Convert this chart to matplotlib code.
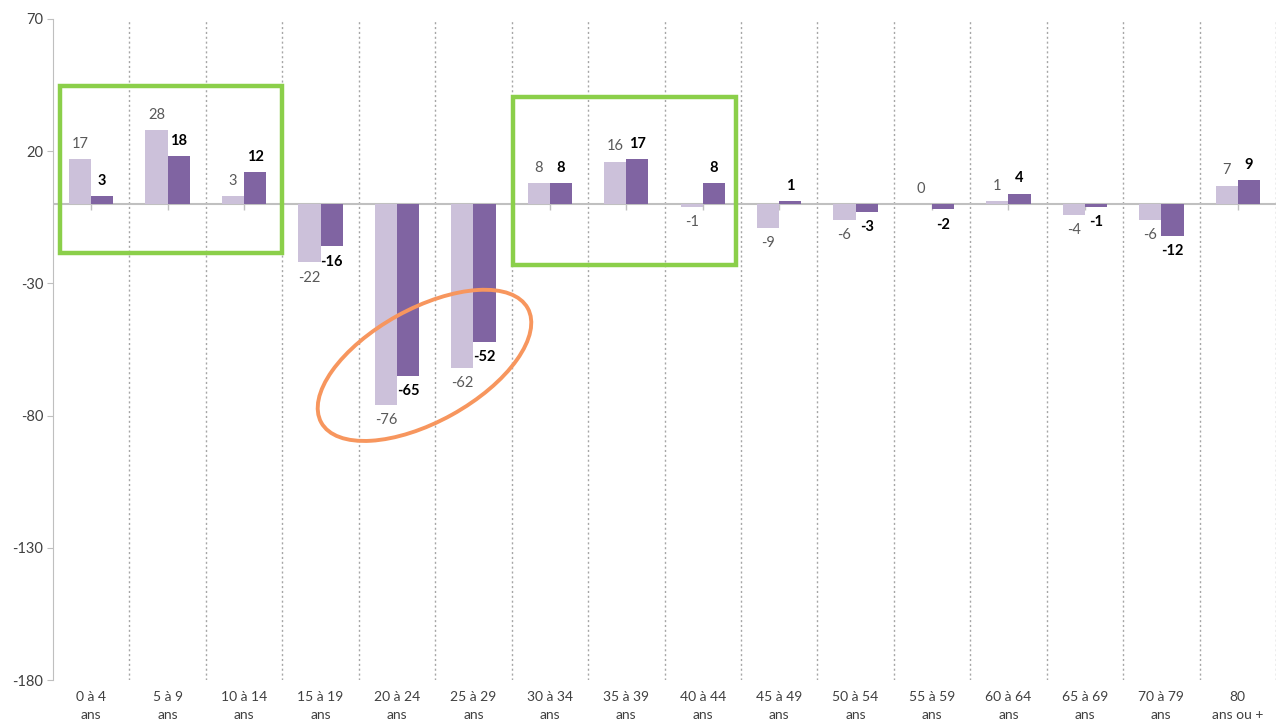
import numpy as np
import matplotlib
matplotlib.use('Agg')
from matplotlib import pyplot as plt
from matplotlib.patches import Rectangle, Ellipse
from matplotlib.transforms import IdentityTransform

ages = ['0 à 4\nans', '5 à 9\nans', '10 à 14\nans', '15 à 19\nans', '20 à 24\nans',
        '25 à 29\nans', '30 à 34\nans', '35 à 39\nans', '40 à 44\nans', '45 à 49\nans',
        '50 à 54\nans', '55 à 59\nans', '60 à 64\nans', '65 à 69\nans', '70 à 79\nans',
        '80\nans ou +']
serie_claire = [17, 28, 3, -22, -76, -62, 8, 16, -1, -9, -6, 0, 1, -4, -6, 7]
serie_foncee = [3, 18, 12, -16, -65, -52, 8, 17, 8, 1, -3, -2, 4, -1, -12, 9]
y_ticks = [70, 20, -30, -80, -130, -180]

plt.rcParams['font.family'] = ['Lato', 'DejaVu Sans']

col_clair = '#ccc1da'
col_fonce = '#8064a2'
gris = '#404040'


def main():
    fig = plt.figure(figsize=(12.76, 7.27), dpi=100)
    ax = fig.add_axes([53 / 1276, 1 - 680 / 727, (1276 - 53) / 1276, (680 - 19) / 727])
    x = np.arange(len(ages))
    w = 0.29

    ax.bar(x - w / 2, serie_claire, w, color=col_clair, zorder=3)
    ax.bar(x + w / 2, serie_foncee, w, color=col_fonce, zorder=3)

    # valeurs au-dessus / en dessous des barres
    for i in range(len(ages)):
        for val, dx, c, fw in [(serie_claire[i], -w / 2, '#595959', 'normal'),
                               (serie_foncee[i], w / 2, 'black', 'bold')]:
            off = 11 if val >= 0 else -11
            ax.annotate(str(val), (x[i] + dx, val), xytext=(0, off),
                        textcoords='offset points', ha='center', va='center',
                        fontsize=10.5, color=c, fontweight=fw, zorder=5)

    ax.set_xlim(-0.5, len(ages) - 0.5)
    ax.set_ylim(-180, 70)
    ax.set_yticks(y_ticks)
    ax.set_yticklabels([str(v) for v in y_ticks], fontsize=10.5, color=gris)
    ax.set_xticks(x)
    ax.set_xticklabels(ages, fontsize=10, color=gris, linespacing=1.6)
    ax.tick_params(axis='x', length=0, pad=8)
    ax.tick_params(axis='y', length=4, color='#bfbfbf', pad=3)

    for s in ['top', 'right', 'bottom']:
        ax.spines[s].set_visible(False)
    ax.spines['left'].set_color('#bfbfbf')

    for b in np.arange(0.5, len(ages), 1.0):
        ax.axvline(b, color='#a6a6a6', lw=1, ls=(0, (1.5, 2)), zorder=1)
    ax.axhline(0, color='#c0c0c0', lw=1.5, zorder=2)
    ax.plot(x, np.zeros(len(x)), ls='none', marker=3, ms=4, mew=1,
            color='#c0c0c0', zorder=2)

    # cadres verts
    ax.add_patch(Rectangle((-0.41, -18.5), 2.91, 63.1, fill=False,
                           ec='#8bcf4a', lw=3.2, zorder=6, clip_on=False))
    ax.add_patch(Rectangle((5.52, -23), 2.92, 63.5, fill=False,
                           ec='#8bcf4a', lw=3.2, zorder=6, clip_on=False))

    # ellipse orange autour des 20-29 ans
    cx, cy = ax.transData.transform((4.36, -61))
    ax.add_artist(Ellipse((cx, cy), 236, 113, angle=29, fill=False,
                          ec='#f7965e', lw=2.8, transform=IdentityTransform(),
                          zorder=6, clip_on=False))

    fig.savefig('out.png', dpi=100)


if __name__ == "__main__":
    main()
